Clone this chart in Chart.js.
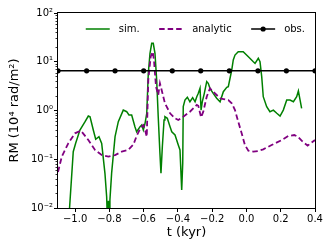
<!DOCTYPE html>
<html><head><meta charset="utf-8">
<script src="https://cdn.jsdelivr.net/npm/chart.js@4/dist/chart.umd.min.js"></script>
<style>html,body{margin:0;padding:0;background:#fff;}canvas{display:block;}</style>
</head><body>
<canvas id="c" width="332" height="249"></canvas>
<script>
const simT = [-1.040,-1.011,-0.997,-0.972,-0.942,-0.923,-0.913,-0.894,-0.880,-0.861,-0.845,-0.826,-0.816,-0.811,-0.806,-0.801,-0.797,-0.787,-0.767,-0.748,-0.719,-0.699,-0.686,-0.670,-0.651,-0.641,-0.621,-0.611,-0.602,-0.592,-0.582,-0.573,-0.563,-0.553,-0.544,-0.534,-0.524,-0.515,-0.505,-0.499,-0.491,-0.481,-0.476,-0.462,-0.446,-0.436,-0.417,-0.398,-0.388,-0.378,-0.372,-0.369,-0.359,-0.345,-0.330,-0.314,-0.300,-0.290,-0.281,-0.271,-0.265,-0.258,-0.246,-0.232,-0.223,-0.213,-0.194,-0.174,-0.154,-0.135,-0.115,-0.106,-0.086,-0.077,-0.067,-0.048,-0.019,0.011,0.040,0.050,0.069,0.079,0.089,0.098,0.118,0.137,0.157,0.177,0.196,0.215,0.235,0.254,0.274,0.293,0.303,0.313,0.322];
const simV = [0.004,0.143,0.212,0.398,0.589,0.771,0.746,0.398,0.257,0.29,0.212,0.0515,0.017,0.005,0.014,0.005,0.0146,0.052,0.29,0.589,1.02,0.945,0.81,0.81,0.466,0.367,0.466,0.504,0.398,0.546,0.877,5.8,14.9,23.9,23.9,14.9,4.23,0.746,0.132,0.0515,0.181,0.638,0.746,0.692,0.466,0.367,0.314,0.196,0.155,0.0234,0.0826,1.2,1.64,1.87,1.51,1.83,1.51,1.92,2.25,2.85,1.02,1.51,2.25,3.9,3.61,2.85,2.25,1.78,1.51,2.43,2.99,3.08,6.77,10.9,13.7,16.1,16.1,12.7,10.0,9.3,11.8,10.0,4.94,1.92,1.2,0.945,1.02,0.877,0.771,1.02,1.64,1.64,1.51,1.92,2.51,1.64,1.11];
const anaT = [-1.100,-1.078,-1.040,-1.001,-0.966,-0.923,-0.884,-0.845,-0.806,-0.767,-0.728,-0.690,-0.660,-0.641,-0.621,-0.611,-0.602,-0.592,-0.582,-0.573,-0.559,-0.547,-0.540,-0.528,-0.515,-0.505,-0.495,-0.476,-0.446,-0.417,-0.398,-0.369,-0.330,-0.290,-0.281,-0.265,-0.252,-0.232,-0.213,-0.194,-0.174,-0.154,-0.135,-0.106,-0.086,-0.067,-0.048,-0.028,-0.009,0.011,0.040,0.069,0.098,0.147,0.206,0.244,0.279,0.300,0.322,0.357,0.400];
const anaV = [0.0547,0.113,0.212,0.34,0.385,0.248,0.155,0.122,0.113,0.122,0.143,0.155,0.2,0.3,0.42,0.466,0.5,0.398,0.29,4.23,12.7,16.1,10.9,3.08,2.08,3.61,2.63,1.41,0.877,0.692,0.638,0.746,0.945,1.3,1.25,0.725,0.945,1.92,2.85,2.43,2.08,1.78,1.72,1.64,1.41,1.02,0.589,0.34,0.196,0.15,0.143,0.148,0.16,0.196,0.248,0.3,0.314,0.29,0.24,0.19,0.248];
const obsT = [-1.1,-0.933,-0.767,-0.6,-0.433,-0.267,-0.1,0.067,0.233,0.4];
const obsV = [6.5,6.5,6.5,6.5,6.5,6.5,6.5,6.5,6.5,6.5];
const seriesNames = ['sim.','analytic','obs.'];
const xTicks = [-1.0,-0.8,-0.6,-0.4,-0.2,0.0,0.2,0.4];
const xTickLabels = ['\u22121.0','\u22120.8','\u22120.6','\u22120.4','\u22120.2','0.0','0.2','0.4'];
const yTicks = [0.01,0.1,1,10,100];
const yTickLabels = ['10\u207B\u00B2','10\u207B\u00B9','10\u2070','10\u00B9','10\u00B2'];
const xTitle = 't (kyr)';
const yTitle = 'RM (10\u2074 rad/m\u00B2)';

const FONT = 'DejaVu Sans';
const GREEN = '#008000', PURPLE = '#800080', BLACK = '#000000';

const frame = {
  id: 'frame',
  afterDraw(chart) {
    const a = chart.chartArea, ctx = chart.ctx;
    ctx.save();
    ctx.strokeStyle = '#000'; ctx.lineWidth = 1;
    ctx.strokeRect(Math.round(a.left) - 0.5, Math.round(a.top) - 0.5, Math.round(a.right - a.left) + 1, Math.round(a.bottom - a.top) + 1);
    const ys = chart.scales.y;
    ctx.lineWidth = 0.8;
    ctx.beginPath();
    for (let d = -2; d <= 1; d++) {
      for (let k = 2; k <= 9; k++) {
        const y = Math.round(ys.getPixelForValue(k * Math.pow(10, d))) + 0.5;
        ctx.moveTo(a.left - 0.5, y); ctx.lineTo(a.left - 2.5, y);
      }
    }
    ctx.stroke();

    // legend inside the axes, one row
    ctx.font = '10px "' + FONT + '"';
    ctx.textBaseline = 'middle';
    ctx.textAlign = 'left';
    const lineLen = 24, gapText = 9, gapItem = 19.5;
    const widths = chart.data.datasets.map(ds => ctx.measureText(ds.label).width);
    let total = 0;
    widths.forEach((w, i) => { total += lineLen + gapText + w + (i < widths.length - 1 ? gapItem : 0); });
    let x = a.right - 10 - total;
    const yc = a.top + 16;
    chart.data.datasets.forEach((ds, i) => {
      ctx.save();
      ctx.strokeStyle = ds.borderColor; ctx.lineWidth = ds.borderWidth;
      ctx.setLineDash(ds.borderDash || []);
      ctx.beginPath(); ctx.moveTo(x, yc); ctx.lineTo(x + lineLen, yc); ctx.stroke();
      if (ds.pointRadius > 0) {
        ctx.fillStyle = ds.pointBackgroundColor;
        ctx.beginPath(); ctx.arc(x + lineLen / 2, yc, ds.pointRadius, 0, Math.PI * 2); ctx.fill();
      }
      ctx.restore();
      ctx.fillStyle = '#000';
      ctx.fillText(ds.label, x + lineLen + gapText, yc);
      x += lineLen + gapText + widths[i] + gapItem;
    });
    ctx.restore();
  }
};

new Chart(document.getElementById('c'), {
  type: 'line',
  data: {
    datasets: [
      { label: seriesNames[0], data: simT.map((t, i) => ({x: t, y: simV[i]})), borderColor: GREEN, borderWidth: 1.5, pointRadius: 0, tension: 0, fill: false, order: 3, clip: 0 },
      { label: seriesNames[1], data: anaT.map((t, i) => ({x: t, y: anaV[i]})), borderColor: PURPLE, borderWidth: 1.8, borderDash: [5.5, 3], pointRadius: 0, tension: 0, fill: false, order: 2, clip: 0 },
      { label: seriesNames[2], data: obsT.map((t, i) => ({x: t, y: obsV[i]})), borderColor: BLACK, backgroundColor: BLACK, borderWidth: 1.5, pointRadius: 2.6, pointBorderWidth: 0, pointBackgroundColor: BLACK, tension: 0, fill: false, order: 1, clip: 0 }
    ]
  },
  options: {
    responsive: false, animation: false, devicePixelRatio: 1,
    layout: { padding: { left: 0, top: 13, right: 17, bottom: 0 } },
    plugins: {
      tooltip: { enabled: false },
      legend: { display: false }
    },
    scales: {
      x: {
        type: 'linear', min: -1.1, max: 0.4,
        afterBuildTicks: s => { s.ticks = xTicks.map(v => ({ value: v })); },
        afterFit: s => { s.height = 41; },
        ticks: { callback: (v, i) => xTickLabels[i], color: '#000', font: { family: FONT, size: 10 }, padding: 1, maxRotation: 0, autoSkip: false },
        grid: { drawOnChartArea: false, drawTicks: true, tickLength: 4, tickColor: '#000', tickWidth: 1 },
        border: { display: false },
        title: { display: true, text: xTitle, color: '#000', font: { family: FONT, size: 13 }, padding: { top: 0, bottom: 9 } }
      },
      y: {
        type: 'logarithmic', min: 0.01, max: 100,
        afterBuildTicks: s => { s.ticks = yTicks.map(v => ({ value: v, major: true })); },
        afterFit: s => { s.width = 58; },
        ticks: { callback: (v, i) => yTickLabels[i], color: '#000', font: { family: FONT, size: 10 }, padding: 1, autoSkip: false },
        grid: { drawOnChartArea: false, drawTicks: true, tickLength: 4, tickColor: '#000', tickWidth: 1 },
        border: { display: false },
        title: { display: true, text: yTitle, color: '#000', font: { family: FONT, size: 13 }, padding: { top: 7, bottom: 0 } }
      }
    }
  },
  plugins: [frame]
});
</script>
</body></html>
